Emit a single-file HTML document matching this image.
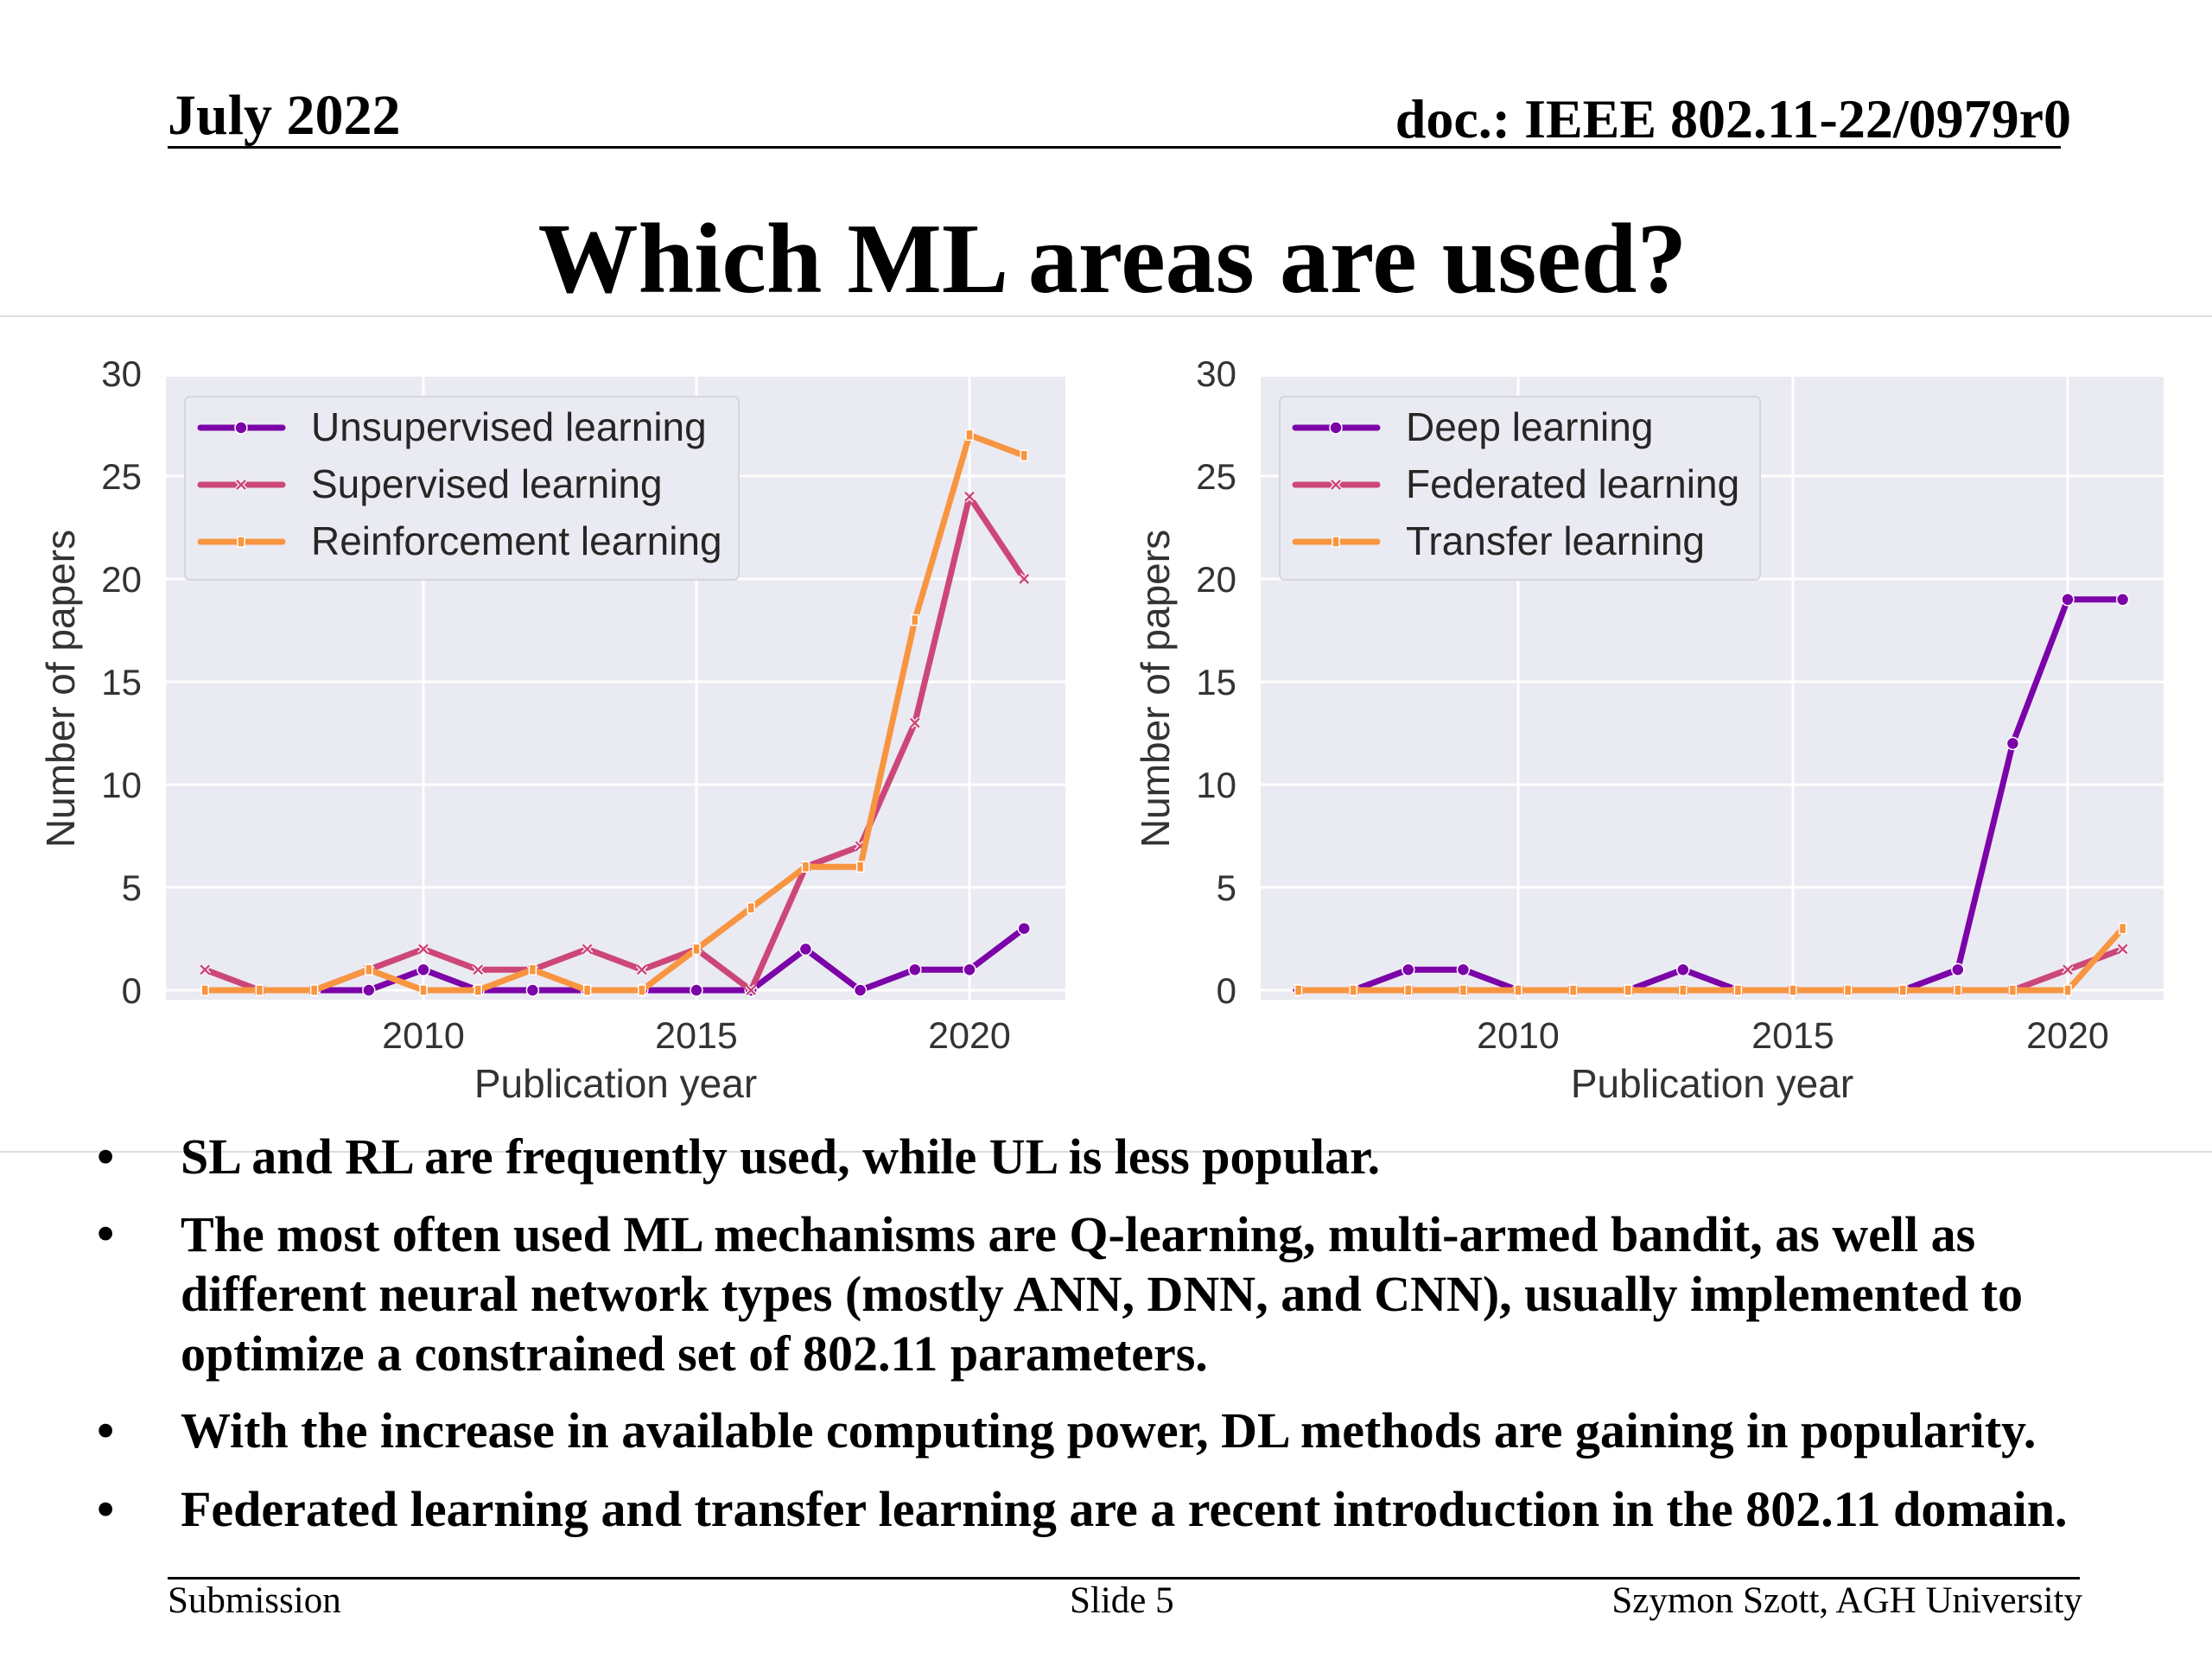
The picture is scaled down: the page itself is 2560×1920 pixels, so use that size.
<!DOCTYPE html>
<html><head><meta charset="utf-8">
<style>
body{margin:0;width:2560px;height:1920px;background:#fff;overflow:hidden;position:relative;font-family:"Liberation Serif",serif}
.t{position:absolute;white-space:nowrap;font-weight:bold;color:#000}
</style></head>
<body>
<div class="t" style="left:194px;top:96px;font-size:66px">July 2022</div>
<div class="t" style="right:163px;top:101px;font-size:64px">doc.: IEEE 802.11-22/0979r0</div>
<div style="position:absolute;left:194px;top:169px;width:2191px;height:3px;background:#000"></div>
<div class="t" style="left:0;width:2575px;text-align:center;top:234px;font-size:116px">Which ML areas are used?</div>
<div style="position:absolute;left:0;top:365px;width:2560px;height:2px;background:#ddd"></div>
<div style="position:absolute;left:0;top:1332px;width:2560px;height:2px;background:#ddd"></div>
<svg id="chart" width="2560" height="1920" style="position:absolute;left:0;top:0" font-family="Liberation Sans, sans-serif"></svg>
<div style="position:absolute;left:0;top:0;font-size:58px">
<div class="t" style="left:112px;top:1305px">•</div>
<div class="t" style="left:209px;top:1305px">SL and RL are frequently used, while UL is less popular.</div>
<div class="t" style="left:112px;top:1394px">•</div>
<div class="t" style="left:209px;top:1394px;line-height:69px">The most often used ML mechanisms are Q-learning, multi-armed bandit, as well as<br>different neural network types (mostly ANN, DNN, and CNN), usually implemented to<br>optimize a constrained set of 802.11 parameters.</div>
<div class="t" style="left:112px;top:1622px">•</div>
<div class="t" style="left:209px;top:1622px">With the increase in available computing power, DL methods are gaining in popularity.</div>
<div class="t" style="left:112px;top:1713px">•</div>
<div class="t" style="left:209px;top:1713px">Federated learning and transfer learning are a recent introduction in the 802.11 domain.</div>
</div>
<div style="position:absolute;left:194px;top:1825px;width:2213px;height:3px;background:#000"></div>
<div style="position:absolute;left:194px;top:1828px;font-size:43px">Submission</div>
<div style="position:absolute;left:1238px;top:1828px;font-size:43px">Slide 5</div>
<div style="position:absolute;right:150px;top:1828px;font-size:43px">Szymon Szott, AGH University</div>
<script>
const years=[2006,2007,2008,2009,2010,2011,2012,2013,2014,2015,2016,2017,2018,2019,2020,2021];
const ulYears=[2008,2009,2010,2011,2012,2013,2014,2015,2016,2017,2018,2019,2020,2021];
const ulValues=[0,0,1,0,0,0,0,0,0,2,0,1,1,3];
const slValues=[1,0,0,1,2,1,1,2,1,2,0,6,7,13,24,20];
const rlValues=[0,0,0,1,0,0,1,0,0,2,4,6,6,18,27,26];
const dlValues=[0,0,1,1,0,0,0,1,0,0,0,0,1,12,19,19];
const flValues=[0,0,0,0,0,0,0,0,0,0,0,0,0,0,1,2];
const tlValues=[0,0,0,0,0,0,0,0,0,0,0,0,0,0,0,3];
const yTicks=[0,5,10,15,20,25,30];
const xTicks=[2010,2015,2020];
const leftNames=["Unsupervised learning","Supervised learning","Reinforcement learning"];
const rightNames=["Deep learning","Federated learning","Transfer learning"];
const colors=["#7b03a8","#cc4778","#f89540"];
const NS="http://www.w3.org/2000/svg";
const svg=document.getElementById('chart');
function mk(tag,attrs,parent){const e=document.createElementNS(NS,tag);for(const k in attrs)e.setAttribute(k,attrs[k]);(parent||svg).appendChild(e);return e;}
function marker(g,kind,x,y,c){
  if(kind===0){const m=mk('circle',{cx:x,cy:y,r:7,fill:c,stroke:'#fff','stroke-width':1.5},g);}
  else if(kind===1){const m=mk('path',{d:`M${x-5},${y-5}L${x+5},${y+5}M${x-5},${y+5}L${x+5},${y-5}`,stroke:'#fff','stroke-width':5},g);const m2=mk('path',{d:`M${x-5},${y-5}L${x+5},${y+5}M${x-5},${y+5}L${x+5},${y-5}`,stroke:c,'stroke-width':2.5},g);}
  else {const m=mk('rect',{x:x-4,y:y-6,width:8,height:12,fill:c,stroke:'#fff','stroke-width':1.5},g);}
}
function chart(name,L,R,x2010,x2020,series,names,legW){
  const T=436,B=1157,y0=1146,y30=432;
  const ys=v=>y0+(y30-y0)*v/30;
  const xs=yr=>x2010+(x2020-x2010)*(yr-2010)/10;
  const g=mk('g',{});
  
  
  const bg=mk('rect',{x:L,y:T,width:R-L,height:B-T,fill:'#eaeaf2'},g);
  
  
  yTicks.forEach(v=>{
    const l=mk('line',{x1:L,x2:R,y1:ys(v),y2:ys(v),stroke:'#fff','stroke-width':3},g);
    
    
    const t=mk('text',{x:L-28,y:ys(v)+15,'text-anchor':'end','font-size':42,fill:'#333'},g);
    t.textContent=v;
    
    
  });
  xTicks.forEach(v=>{
    const l=mk('line',{x1:xs(v),x2:xs(v),y1:T,y2:B,stroke:'#fff','stroke-width':3},g);
    
    
    const t=mk('text',{x:xs(v),y:1213,'text-anchor':'middle','font-size':43,fill:'#333'},g);
    t.textContent=v;
    
    
  });
  const xt=mk('text',{x:(L+R)/2,y:1270,'text-anchor':'middle','font-size':46,fill:'#333'},g);
  xt.textContent='Publication year';
  
  
  const yt=mk('text',{x:0,y:0,transform:`translate(${L-106},797) rotate(-90)`,'text-anchor':'middle','font-size':46,fill:'#333'},g);
  yt.textContent='Number of papers';
  
  
  series.forEach((s,i)=>{
    const pts=s.xs.map((yr,j)=>[xs(yr),ys(s.v[j])]);
    const p=mk('polyline',{points:pts.map(p=>p.join(',')).join(' '),fill:'none',stroke:colors[i],'stroke-width':7,'stroke-linejoin':'round','stroke-linecap':'round'},g);
    
    
    pts.forEach(q=>marker(g,i,q[0],q[1],colors[i]));
  });
  const lg=mk('g',{},g);
  
  
  const lb=mk('rect',{x:L+22,y:459,width:legW,height:212,rx:6,fill:'#eaeaf2',stroke:'#d5d5dd','stroke-width':2},lg);
  
  
  names.forEach((n,i)=>{
    const yy=495+i*66;
    const l=mk('line',{x1:L+40,x2:L+135,y1:yy,y2:yy,stroke:colors[i],'stroke-width':7,'stroke-linecap':'round'},lg);
    
    
    marker(lg,i,L+87,yy,colors[i]);
    const t=mk('text',{x:L+168,y:yy+15,'font-size':46,fill:'#262626'},lg);
    t.textContent=n;
    
    
  });
}
chart('left-chart',192,1233,490,1122,[{xs:ulYears,v:ulValues},{xs:years,v:slValues},{xs:years,v:rlValues}],leftNames,641);
chart('right-chart',1459,2504,1757,2393,[{xs:years,v:dlValues},{xs:years,v:flValues},{xs:years,v:tlValues}],rightNames,556);
</script>
</body></html>
